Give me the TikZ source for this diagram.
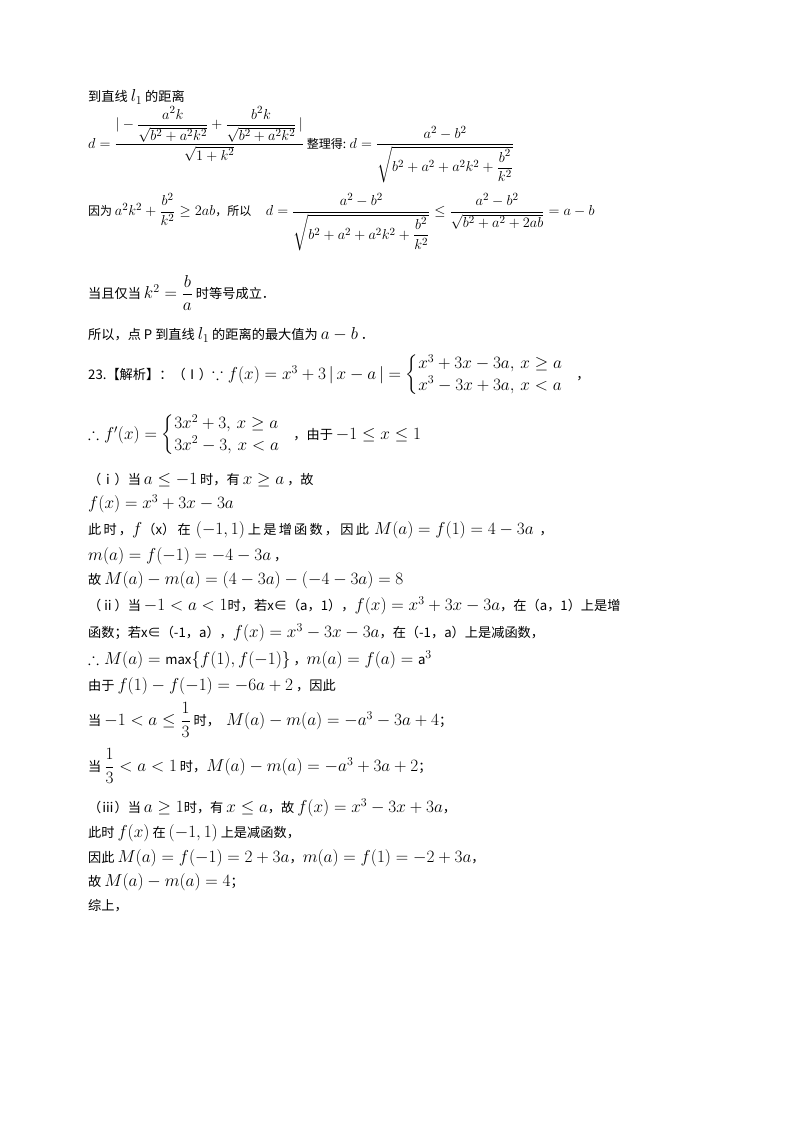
\documentclass[tikz,border=0pt]{standalone}
\usepackage{amsmath,amssymb}
\usepackage{fontspec}
\setmainfont{Noto Sans CJK SC}[Scale=0.8]
\begin{document}
\begin{tikzpicture}[x=1pt,y=-1pt,
  t/.style={anchor=west,inner sep=0pt,font=\fontsize{16.5}{18}\selectfont},
  s/.style={anchor=west,inner sep=0pt,font=\fontsize{15}{17}\selectfont}]
\useasboundingbox[fill=white] (0,0) rectangle (800,1129);
\node[t] (l1) at (88,97) {到直线 $l_1$ 的距离};
\node[s] (l2) at (88,145) {$d=\dfrac{|-\dfrac{a^2k}{\sqrt{b^2+a^2k^2}}+\dfrac{b^2k}{\sqrt{b^2+a^2k^2}}\,|}{\sqrt{1+k^2}}$ 整理得: $d=\dfrac{a^2-b^2}{\sqrt{b^2+a^2+a^2k^2+\dfrac{b^2}{k^2}}}$};
\node[s] (l3) at (88,222) {因为 $a^2k^2+\dfrac{b^2}{k^2}\ge 2ab$，所以 \quad $d=\dfrac{a^2-b^2}{\sqrt{b^2+a^2+a^2k^2+\dfrac{b^2}{k^2}}}\le\dfrac{a^2-b^2}{\sqrt{b^2+a^2+2ab}}=a-b$};
\node[t] (l4) at (88,293) {当且仅当 $k^2=\dfrac{b}{a}$ 时等号成立．};
\node[t] (l5) at (88,335) {所以，点 P 到直线 $l_1$ 的距离的最大值为 $a-b$ ．};
\node[t] (l6) at (88,375) {23.【解析】：（Ⅰ）$\because f(x)=x^3+3\,|\,x-a\,|=\begin{cases}x^3+3x-3a,\ x\ge a\\ x^3-3x+3a,\ x<a\end{cases}$，};
\node[t] (l7) at (88,435) {$\therefore f'(x)=\begin{cases}3x^2+3,\ x\ge a\\ 3x^2-3,\ x<a\end{cases}$，由于 $-1\le x\le 1$};
\node[t] (l8) at (88,480) {（ⅰ）当 $a\le -1$ 时，有 $x\ge a$ ，故};
\node[t] (l9) at (88,504) {$f(x)=x^3+3x-3a$};
\node[t] (l10) at (88,530) {此\,时\,，$f$（x）\,在\, $(-1,1)$ 上\,是\,增\,函\,数\,，\,因\,此\, $M(a)=f(1)=4-3a$ \ ，};
\node[t] (l11) at (88,556) {$m(a)=f(-1)=-4-3a$ ，};
\node[t] (l12) at (88,580) {故 $M(a)-m(a)=(4-3a)-(-4-3a)=8$};
\node[t] (l13) at (88,606) {（ⅱ）当 $-1<a<1$时，若x∈（a，1），$f(x)=x^3+3x-3a$，在（a，1）上是增};
\node[t] (l14) at (88,633) {函数；若x∈（-1，a），$f(x)=x^3-3x-3a$，在（-1，a）上是减函数，};
\node[t] (l15) at (88,660) {$\therefore M(a)=\max\{f(1),f(-1)\}$ ，$m(a)=f(a)=\mathrm{a}^3$};
\node[t] (l16) at (88,686) {由于 $f(1)-f(-1)=-6a+2$ ，因此};
\node[t] (l17) at (88,720) {当 $-1<a\le\dfrac{1}{3}$ 时，\ \ $M(a)-m(a)=-a^3-3a+4$；};
\node[t] (l18) at (88,766) {当 $\dfrac{1}{3}<a<1$ 时，$M(a)-m(a)=-a^3+3a+2$；};
\node[t] (l19) at (88,808) {（ⅲ）当 $a\ge 1$时，有 $x\le a$，故 $f(x)=x^3-3x+3a$，};
\node[t] (l20) at (88,833) {此时 $f(x)$ 在 $(-1,1)$ 上是减函数，};
\node[t] (l21) at (88,858) {因此 $M(a)=f(-1)=2+3a$，$m(a)=f(1)=-2+3a$，};
\node[t] (l22) at (88,882) {故 $M(a)-m(a)=4$；};
\node[t] (l23) at (88,906) {综上，};
\end{tikzpicture}
\end{document}
